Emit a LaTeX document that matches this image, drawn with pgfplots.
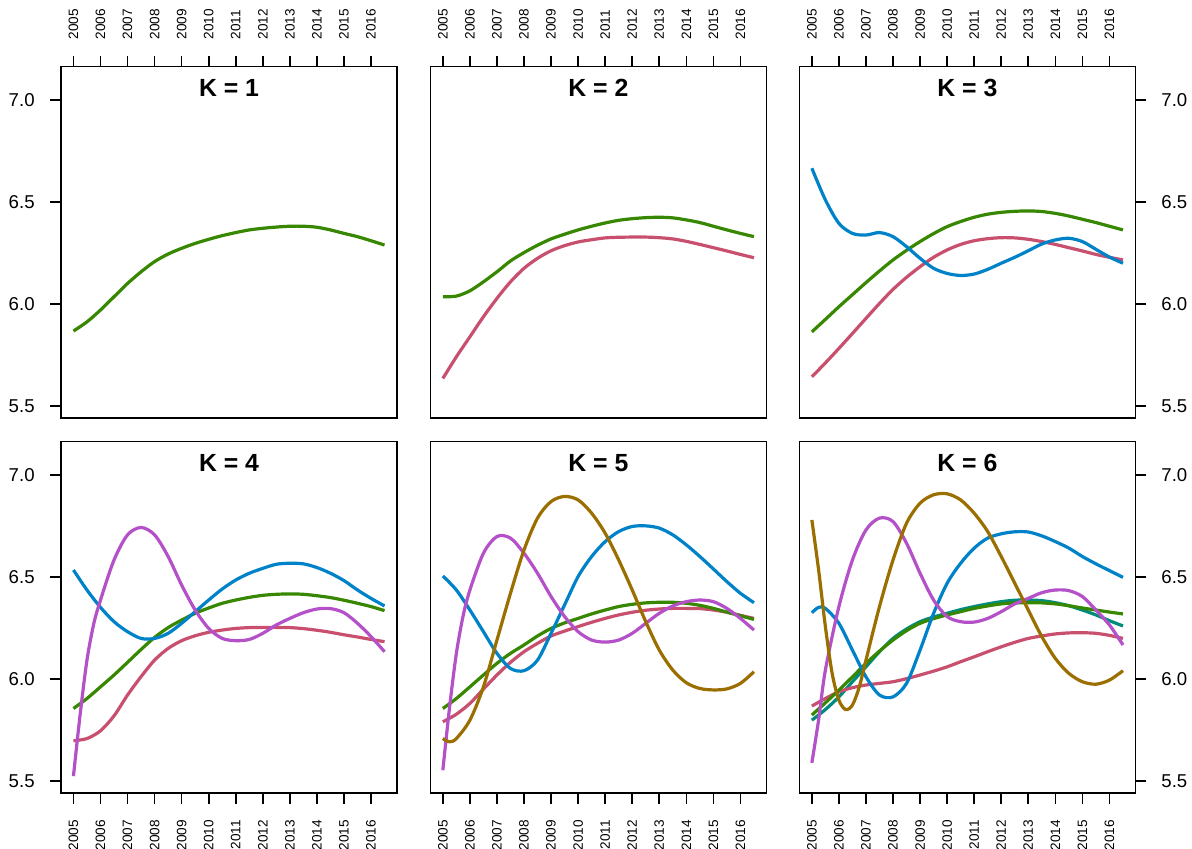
\documentclass[border=0pt]{standalone}
\usepackage{fontspec}
\setmainfont{Liberation Sans}
\usepackage{pgfplots}
\pgfplotsset{compat=1.18}
\definecolor{cpink}{RGB}{200,80,110}
\definecolor{cgreen}{RGB}{55,135,0}
\definecolor{cblue}{RGB}{0,130,200}
\definecolor{cpurple}{RGB}{180,80,200}
\definecolor{cbrown}{RGB}{155,110,0}
\definecolor{cteal}{RGB}{0,140,125}
\pgfplotsset{
  panel/.style={
    scale only axis, width=168pt, height=175.8pt, anchor=south west,
    xmin=2004.54, xmax=2016.96, ymin=5.441, ymax=7.162,
    xtick={2005,2006,...,2016}, ytick={5.5,6.0,6.5,7.0},
    tick align=outside, major tick length=5.5pt,
    axis line style={line width=0.8pt}, every tick/.style={line width=0.8pt, black},
    /pgf/number format/assume math mode=true,
    xticklabel style={/pgf/number format/set thousands separator={}, rotate=90, inner sep=0pt, font=\fontsize{6.8}{8}\selectfont},
    yticklabel style={/pgf/number format/fixed, /pgf/number format/fixed zerofill, /pgf/number format/precision=1, inner sep=0pt, font=\fontsize{9.3}{11}\selectfont},
    every axis title/.style={at={(0.5,1)}, anchor=base, yshift=-15pt, font=\bfseries\fontsize{12.4}{14}\selectfont},
    every axis plot/.append style={line width=1.6pt, smooth, no markers},
  },
  toprow/.style={xtick pos=right, xticklabel pos=right, xticklabel style={anchor=west}, xticklabel shift=8pt},
  botrow/.style={xtick pos=left, xticklabel pos=left, xticklabel style={anchor=east}, xticklabel shift=7.8pt},
  leftcol/.style={ytick pos=left, yticklabel pos=left, yticklabel style={anchor=east}, yticklabel shift=7.5pt},
  midcol/.style={ytick=\empty},
  rightcol/.style={ytick pos=right, yticklabel pos=right, yticklabel style={anchor=west}, yticklabel shift=7.3pt},
}
\begin{document}
\begin{tikzpicture}
\useasboundingbox (0,0) rectangle (596pt,424.5pt);
% K = 1
\begin{axis}[panel, toprow, leftcol, at={(30.5pt,215.35pt)}, title={K = 1}]
\addplot[cgreen] coordinates {(2005,5.868) (2005.5,5.913) (2006,5.971) (2006.5,6.036) (2007,6.101) (2007.5,6.158) (2008,6.208) (2008.5,6.245) (2009,6.273) (2009.5,6.297) (2010,6.317) (2010.5,6.335) (2011,6.35) (2011.5,6.363) (2012,6.371) (2012.5,6.377) (2013,6.381) (2013.5,6.381) (2014,6.376) (2014.5,6.363) (2015,6.346) (2015.5,6.33) (2016,6.31) (2016.5,6.289)};
\end{axis}
% K = 2
\begin{axis}[panel, toprow, midcol, at={(215.2pt,215.35pt)}, title={K = 2}]
\addplot[cpink] coordinates {(2005,5.636) (2005.5,5.742) (2006,5.84) (2006.5,5.938) (2007,6.028) (2007.5,6.109) (2008,6.175) (2008.5,6.224) (2009,6.261) (2009.5,6.286) (2010,6.304) (2010.5,6.315) (2011,6.324) (2011.5,6.327) (2012,6.328) (2012.5,6.328) (2013,6.325) (2013.5,6.319) (2014,6.307) (2014.5,6.292) (2015,6.276) (2015.5,6.26) (2016,6.243) (2016.5,6.227)};
\addplot[cgreen] coordinates {(2005,6.036) (2005.5,6.039) (2006,6.065) (2006.5,6.109) (2007,6.158) (2007.5,6.211) (2008,6.252) (2008.5,6.288) (2009,6.319) (2009.5,6.342) (2010,6.363) (2010.5,6.381) (2011,6.397) (2011.5,6.41) (2012,6.418) (2012.5,6.423) (2013,6.425) (2013.5,6.422) (2014,6.412) (2014.5,6.399) (2015,6.381) (2015.5,6.363) (2016,6.346) (2016.5,6.33)};
\end{axis}
% K = 3
\begin{axis}[panel, toprow, rightcol, at={(399.7pt,215.35pt)}, title={K = 3}]
\addplot[cpink] coordinates {(2005,5.644) (2005.5,5.712) (2006,5.783) (2006.5,5.856) (2007,5.93) (2007.5,6.003) (2008,6.072) (2008.5,6.131) (2009,6.183) (2009.5,6.229) (2010,6.265) (2010.5,6.292) (2011,6.31) (2011.5,6.32) (2012,6.325) (2012.5,6.324) (2013,6.317) (2013.5,6.306) (2014,6.292) (2014.5,6.276) (2015,6.26) (2015.5,6.243) (2016,6.229) (2016.5,6.216)};
\addplot[cgreen] coordinates {(2005,5.864) (2005.5,5.925) (2006,5.987) (2006.5,6.046) (2007,6.105) (2007.5,6.162) (2008,6.216) (2008.5,6.263) (2009,6.306) (2009.5,6.345) (2010,6.379) (2010.5,6.404) (2011,6.425) (2011.5,6.44) (2012,6.449) (2012.5,6.454) (2013,6.456) (2013.5,6.453) (2014,6.444) (2014.5,6.431) (2015,6.415) (2015.5,6.399) (2016,6.381) (2016.5,6.363)};
\addplot[cblue] coordinates {(2005,6.665) (2005.5,6.51) (2006,6.395) (2006.5,6.346) (2007,6.338) (2007.5,6.35) (2008,6.33) (2008.5,6.281) (2009,6.224) (2009.5,6.175) (2010,6.15) (2010.5,6.14) (2011,6.147) (2011.5,6.17) (2012,6.2) (2012.5,6.229) (2013,6.261) (2013.5,6.294) (2014,6.314) (2014.5,6.322) (2015,6.306) (2015.5,6.268) (2016,6.23) (2016.5,6.2)};
\end{axis}
% K = 4
\begin{axis}[panel, botrow, leftcol, at={(30.5pt,27.85pt)}, title={K = 4}]
\addplot[cpink] coordinates {(2005,5.698) (2005.5,5.709) (2006,5.747) (2006.5,5.82) (2007,5.922) (2007.5,6.012) (2008,6.093) (2008.5,6.15) (2009,6.188) (2009.5,6.212) (2010,6.229) (2010.5,6.24) (2011,6.248) (2011.5,6.252) (2012,6.253) (2012.5,6.253) (2013,6.252) (2013.5,6.247) (2014,6.239) (2014.5,6.229) (2015,6.217) (2015.5,6.206) (2016,6.194) (2016.5,6.183)};
\addplot[cgreen] coordinates {(2005,5.856) (2005.5,5.905) (2006,5.962) (2006.5,6.02) (2007,6.082) (2007.5,6.145) (2008,6.204) (2008.5,6.252) (2009,6.289) (2009.5,6.322) (2010,6.348) (2010.5,6.371) (2011,6.387) (2011.5,6.4) (2012,6.41) (2012.5,6.415) (2013,6.417) (2013.5,6.415) (2014,6.408) (2014.5,6.399) (2015,6.386) (2015.5,6.371) (2016,6.355) (2016.5,6.335)};
\addplot[cblue] coordinates {(2005,6.534) (2005.5,6.436) (2006,6.351) (2006.5,6.281) (2007,6.232) (2007.5,6.199) (2008,6.199) (2008.5,6.224) (2009,6.273) (2009.5,6.33) (2010,6.387) (2010.5,6.441) (2011,6.485) (2011.5,6.518) (2012,6.542) (2012.5,6.562) (2013,6.567) (2013.5,6.564) (2014,6.546) (2014.5,6.518) (2015,6.482) (2015.5,6.436) (2016,6.395) (2016.5,6.358)};
\addplot[cpurple] coordinates {(2005,5.525) (2005.25,5.83) (2005.5,6.093) (2005.75,6.27) (2006,6.387) (2006.5,6.583) (2007,6.706) (2007.5,6.742) (2008,6.706) (2008.5,6.6) (2009,6.46) (2009.5,6.338) (2010,6.248) (2010.5,6.199) (2011,6.188) (2011.5,6.194) (2012,6.224) (2012.5,6.265) (2013,6.297) (2013.5,6.325) (2014,6.343) (2014.5,6.345) (2015,6.325) (2015.5,6.273) (2016,6.208) (2016.5,6.134)};
\end{axis}
% K = 5
\begin{axis}[panel, botrow, midcol, at={(215.2pt,27.85pt)}, title={K = 5}]
\addplot[cpink] coordinates {(2005,5.791) (2005.5,5.828) (2006,5.881) (2006.5,5.951) (2007,6.02) (2007.5,6.082) (2008,6.134) (2008.5,6.175) (2009,6.211) (2009.5,6.235) (2010,6.257) (2010.5,6.278) (2011,6.297) (2011.5,6.314) (2012,6.327) (2012.5,6.337) (2013,6.343) (2013.5,6.346) (2014,6.346) (2014.5,6.345) (2015,6.338) (2015.5,6.327) (2016,6.312) (2016.5,6.297)};
\addplot[cgreen] coordinates {(2005,5.856) (2005.5,5.905) (2006,5.962) (2006.5,6.02) (2007,6.077) (2007.5,6.126) (2008,6.167) (2008.5,6.211) (2009,6.248) (2009.5,6.275) (2010,6.297) (2010.5,6.319) (2011,6.338) (2011.5,6.355) (2012,6.366) (2012.5,6.373) (2013,6.376) (2013.5,6.376) (2014,6.371) (2014.5,6.361) (2015,6.346) (2015.5,6.328) (2016,6.31) (2016.5,6.292)};
\addplot[cblue] coordinates {(2005,6.505) (2005.5,6.436) (2006,6.338) (2006.5,6.232) (2007,6.126) (2007.5,6.052) (2008,6.041) (2008.5,6.093) (2009,6.224) (2009.5,6.363) (2010,6.502) (2010.5,6.6) (2011,6.673) (2011.5,6.722) (2012,6.747) (2012.5,6.75) (2013,6.739) (2013.5,6.706) (2014,6.657) (2014.5,6.6) (2015,6.539) (2015.5,6.477) (2016,6.42) (2016.5,6.374)};
\addplot[cpurple] coordinates {(2005,5.554) (2005.25,5.864) (2005.5,6.126) (2005.75,6.31) (2006,6.436) (2006.5,6.616) (2007,6.698) (2007.5,6.69) (2008,6.616) (2008.5,6.518) (2009,6.404) (2009.5,6.306) (2010,6.232) (2010.5,6.191) (2011,6.181) (2011.5,6.191) (2012,6.224) (2012.5,6.273) (2013,6.322) (2013.5,6.358) (2014,6.379) (2014.5,6.387) (2015,6.379) (2015.5,6.346) (2016,6.297) (2016.5,6.24)};
\addplot[cbrown] coordinates {(2005,5.709) (2005.25,5.693) (2005.5,5.709) (2006,5.799) (2006.5,5.962) (2007,6.191) (2007.5,6.42) (2008,6.632) (2008.5,6.788) (2009,6.869) (2009.5,6.894) (2010,6.877) (2010.5,6.812) (2011,6.714) (2011.5,6.583) (2012,6.436) (2012.5,6.281) (2013,6.142) (2013.5,6.044) (2014,5.982) (2014.5,5.954) (2015,5.947) (2015.5,5.952) (2016,5.979) (2016.5,6.036)};
\end{axis}
% K = 6
\begin{axis}[panel, botrow, rightcol, at={(399.7pt,27.85pt)}, title={K = 6}]
\addplot[cteal] coordinates {(2005,5.799) (2005.5,5.851) (2006,5.913) (2006.5,5.987) (2007,6.06) (2007.5,6.134) (2008,6.199) (2008.5,6.245) (2009,6.281) (2009.5,6.304) (2010,6.322) (2010.5,6.34) (2011,6.355) (2011.5,6.368) (2012,6.379) (2012.5,6.386) (2013,6.387) (2013.5,6.384) (2014,6.374) (2014.5,6.359) (2015,6.338) (2015.5,6.314) (2016,6.286) (2016.5,6.26)};
\addplot[cpink] coordinates {(2005,5.868) (2005.5,5.905) (2006,5.938) (2006.5,5.958) (2007,5.971) (2007.5,5.979) (2008,5.987) (2008.5,6.002) (2009,6.02) (2009.5,6.039) (2010,6.06) (2010.5,6.085) (2011,6.109) (2011.5,6.134) (2012,6.158) (2012.5,6.18) (2013,6.199) (2013.5,6.211) (2014,6.221) (2014.5,6.226) (2015,6.227) (2015.5,6.224) (2016,6.214) (2016.5,6.199)};
\addplot[cgreen] coordinates {(2005,5.824) (2005.5,5.884) (2006,5.946) (2006.5,6.011) (2007,6.077) (2007.5,6.137) (2008,6.191) (2008.5,6.237) (2009,6.273) (2009.5,6.296) (2010,6.314) (2010.5,6.33) (2011,6.346) (2011.5,6.358) (2012,6.368) (2012.5,6.373) (2013,6.374) (2013.5,6.373) (2014,6.368) (2014.5,6.359) (2015,6.348) (2015.5,6.338) (2016,6.328) (2016.5,6.319)};
\addplot[cblue] coordinates {(2005,6.325) (2005.25,6.351) (2005.5,6.346) (2006,6.273) (2006.5,6.142) (2007,6.011) (2007.5,5.922) (2008,5.913) (2008.5,5.979) (2009,6.142) (2009.5,6.322) (2010,6.469) (2010.5,6.567) (2011,6.641) (2011.5,6.69) (2012,6.711) (2012.5,6.721) (2013,6.72) (2013.5,6.701) (2014,6.673) (2014.5,6.641) (2015,6.6) (2015.5,6.564) (2016,6.531) (2016.5,6.498)};
\addplot[cpurple] coordinates {(2005,5.59) (2005.25,5.80) (2005.5,6.044) (2006,6.355) (2006.5,6.583) (2007,6.73) (2007.5,6.788) (2008,6.771) (2008.5,6.665) (2009,6.518) (2009.5,6.387) (2010,6.306) (2010.5,6.281) (2011,6.279) (2011.5,6.297) (2012,6.33) (2012.5,6.368) (2013,6.395) (2013.5,6.423) (2014,6.436) (2014.5,6.433) (2015,6.404) (2015.5,6.338) (2016,6.265) (2016.5,6.167)};
\addplot[cbrown] coordinates {(2005,6.779) (2005.25,6.534) (2005.5,6.257) (2005.75,6.028) (2006,5.897) (2006.25,5.851) (2006.5,5.873) (2006.75,5.96) (2007,6.093) (2007.5,6.355) (2008,6.583) (2008.5,6.763) (2009,6.861) (2009.5,6.902) (2010,6.907) (2010.5,6.877) (2011,6.812) (2011.5,6.722) (2012,6.6) (2012.5,6.469) (2013,6.338) (2013.5,6.208) (2014,6.101) (2014.5,6.028) (2015,5.987) (2015.5,5.975) (2016,5.995) (2016.5,6.041)};
\end{axis}
\end{tikzpicture}
\end{document}
